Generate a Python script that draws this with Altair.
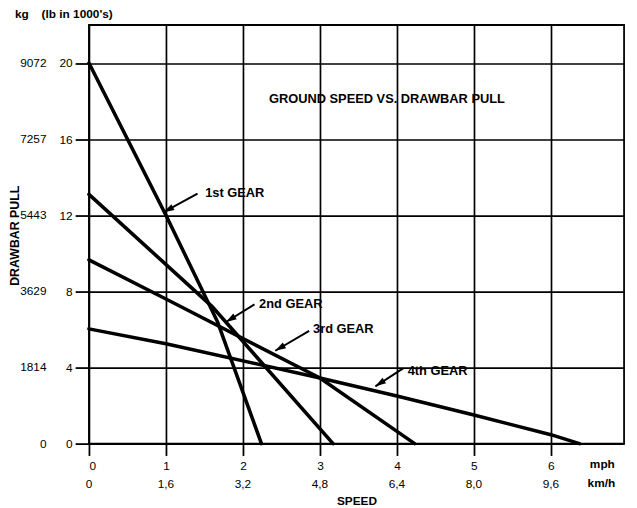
import altair as alt
import pandas as pd
import numpy as np

# ---- axis ticks / labels ----
MPH_TICKS = [0, 1, 2, 3, 4, 5, 6]
KMH_LABELS = ["0", "1,6", "3,2", "4,8", "6,4", "8,0", "9,6"]
LB_TICKS = [0, 4, 8, 12, 16, 20]
KG_LABELS = ["0", "1814", "3629", "5443", "7257", "9072"]

# ---- gear curves (mph, lb in 1000's) ----
g1_mph = [0, 1.0, 1.67, 2.24]
g1_lb = [20, 12, 6.4, 0]
g2_mph = [0, 1.6, 3.17]
g2_lb = [13.1, 7.2, 0]
g3_mph = [0, 1.0, 3.0, 4.23]
g3_lb = [9.66, 7.6, 3.45, 0]
g4_mph = [0, 1, 3, 4, 5, 6, 6.37]
g4_lb = [6.03, 5.25, 3.45, 2.5, 1.5, 0.47, 0]

# ---- annotations ----
GEAR_LABELS = ["1st GEAR", "2nd GEAR", "3rd GEAR", "4th GEAR"]
label_mph = [1.51, 2.21, 2.91, 4.14]
label_lb = [13.17, 7.32, 6.03, 3.79]
tail_mph = [1.41, 2.15, 2.86, 4.08]
tail_lb = [13.14, 7.32, 5.92, 3.95]
tip_mph = [0.97, 1.78, 2.42, 3.72]
tip_lb = [12.16, 6.39, 4.88, 3.01]

TITLE = "GROUND SPEED VS. DRAWBAR PULL"
title_mph = [3.87]
title_lb = [18.1]

XMAX, YMAX = 6.95, 22
W, H = 542, 424
FONT = "Liberation Sans"

rows = []
for name, xs_, ys_ in [("1st", g1_mph, g1_lb), ("2nd", g2_mph, g2_lb),
                       ("3rd", g3_mph, g3_lb), ("4th", g4_mph, g4_lb)]:
    for i, (a, b) in enumerate(zip(xs_, ys_)):
        rows.append({"gear": name, "mph": a, "lb": b, "ord": i})
gears = pd.DataFrame(rows)

kx, ky = W / XMAX, H / YMAX
ann = pd.DataFrame({
    "label": GEAR_LABELS, "lx": label_mph, "ly": label_lb,
    "tx": tail_mph, "ty": tail_lb, "hx": tip_mph, "hy": tip_lb,
})
dx = (ann["hx"] - ann["tx"]) * kx
dy = -(ann["hy"] - ann["ty"]) * ky
ann["ang"] = (np.degrees(np.arctan2(dx, -dy)) + 360) % 360

xs = alt.Scale(domain=[0, XMAX], nice=False, zero=False)
ys = alt.Scale(domain=[0, YMAX], nice=False, zero=False)

x_axis = alt.Axis(
    values=MPH_TICKS, grid=True, gridColor="black", gridWidth=1.7, gridOpacity=1,
    domain=False, ticks=True, tickSize=12, tickColor="black", tickWidth=1.8,
    labelBaseline="middle", labelPadding=10, labelFontSize=12, labelColor="black",
    labelFont=FONT, title="SPEED", titleFont=FONT, titleFontSize=12,
    titleFontWeight="bold", titleColor="black", titleY=58, titleBaseline="middle")
y_axis = alt.Axis(
    values=LB_TICKS, grid=True, gridColor="black", gridWidth=1.7, gridOpacity=1,
    domain=False, ticks=True, tickSize=14, tickColor="black", tickWidth=1.8,
    labelPadding=3, labelFontSize=12, labelColor="black", labelFont=FONT,
    title="DRAWBAR PULL", titleFont=FONT, titleFontSize=12.5, titleFontWeight="bold",
    titleColor="black", titleAngle=270, titleX=-75, titleY=213,
    titleAlign="center", titleBaseline="middle")

lines = alt.Chart(gears).mark_line(color="black", strokeWidth=3.6, strokeCap="round").encode(
    x=alt.X("mph:Q", scale=xs, axis=x_axis),
    y=alt.Y("lb:Q", scale=ys, axis=y_axis),
    detail="gear:N",
    order="ord:Q",
)

shafts = alt.Chart(ann).mark_rule(color="black", strokeWidth=2).encode(
    x=alt.X("tx:Q", scale=xs, axis=x_axis), y=alt.Y("ty:Q", scale=ys, axis=y_axis),
    x2="hx:Q", y2="hy:Q",
)
heads = alt.Chart(ann).mark_point(
    shape="M0,0L-0.5,1.6L0.5,1.6Z", filled=True, color="black", opacity=1, size=180
).encode(
    x=alt.X("hx:Q", scale=xs, axis=x_axis), y=alt.Y("hy:Q", scale=ys, axis=y_axis),
    angle=alt.Angle("ang:Q", scale=None),
)
gear_text = alt.Chart(ann).mark_text(
    align="left", baseline="middle", font=FONT, fontSize=13, fontWeight="bold", color="black"
).encode(
    x=alt.X("lx:Q", scale=xs, axis=x_axis), y=alt.Y("ly:Q", scale=ys, axis=y_axis),
    text="label:N"
)
title_df = pd.DataFrame({"t": [TITLE], "x": title_mph, "y": title_lb})
title_text = alt.Chart(title_df).mark_text(
    align="center", baseline="middle", font=FONT, fontSize=13, fontWeight="bold", color="black"
).encode(
    x=alt.X("x:Q", scale=xs, axis=x_axis), y=alt.Y("y:Q", scale=ys, axis=y_axis), text="t:N"
)

kg_df = pd.DataFrame({"lb": LB_TICKS, "kg": KG_LABELS})
kg_text = alt.Chart(kg_df).mark_text(
    align="right", baseline="middle", font=FONT, fontSize=12, color="black"
).encode(
    y=alt.Y("lb:Q", scale=ys, axis=y_axis), x=alt.value(-43), text="kg:N"
)
kmh_df = pd.DataFrame({"mph": MPH_TICKS, "kmh": KMH_LABELS})
kmh_text = alt.Chart(kmh_df).mark_text(
    align="center", baseline="middle", font=FONT, fontSize=12, color="black"
).encode(
    x=alt.X("mph:Q", scale=xs, axis=x_axis), y=alt.value(H + 41), text="kmh:N"
)

def note(txt, x, y, align="left"):
    return alt.Chart(pd.DataFrame({"t": [txt]})).mark_text(
        align=align, baseline="middle", font=FONT, fontSize=12, fontWeight="bold", color="black"
    ).encode(x=alt.value(x), y=alt.value(y), text="t:N")

notes = [
    note("kg", -75, -11),
    note("(lb in 1000's)", -48, -11),
    note("mph", 520, H + 21, "center"),
    note("km/h", 519, H + 40, "center"),
]

chart = alt.layer(lines, shafts, heads, gear_text, title_text, kg_text, kmh_text, *notes).properties(
    width=W, height=H,
    padding={"left": 82, "top": 14, "right": 5, "bottom": 62},
    autosize=alt.AutoSizeParams(type="none"),
    background="white",
).configure_view(stroke="black", strokeWidth=1.8)

chart.save("out.html", embed_options={"renderer": "svg", "actions": False})
